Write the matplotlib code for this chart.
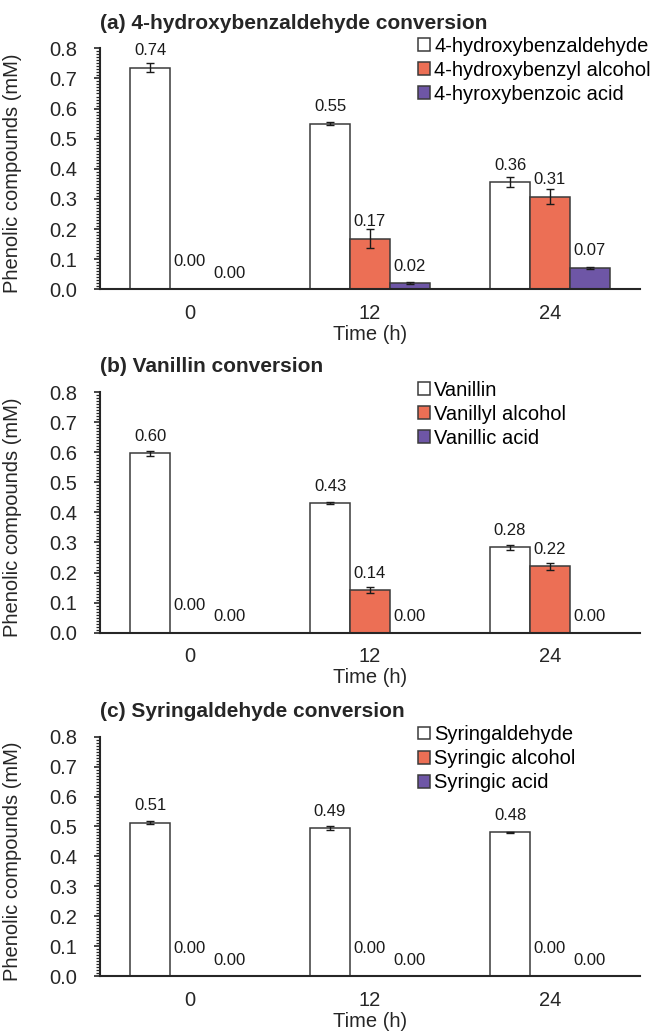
import numpy as np
import matplotlib
matplotlib.use('Agg')
import matplotlib.pyplot as plt
from matplotlib.ticker import MultipleLocator, FormatStrFormatter

plt.rcParams['font.family'] = ['Liberation Sans', 'DejaVu Sans']

# time points (h)
times = ['0', '12', '24']

# (a) 4-hydroxybenzaldehyde
a_names = ['4-hydroxybenzaldehyde', '4-hydroxybenzyl alcohol', '4-hyroxybenzoic acid']
a_ald = [0.736, 0.549, 0.356]
a_ald_err = [0.015, 0.005, 0.017]
a_alc = [0.0, 0.168, 0.308]
a_alc_err = [0.0, 0.031, 0.024]
a_acid = [0.0, 0.021, 0.071]
a_acid_err = [0.0, 0.002, 0.003]

# (b) vanillin
b_names = ['Vanillin', 'Vanillyl alcohol', 'Vanillic acid']
b_ald = [0.596, 0.430, 0.284]
b_ald_err = [0.008, 0.003, 0.008]
b_alc = [0.0, 0.142, 0.221]
b_alc_err = [0.0, 0.011, 0.012]
b_acid = [0.0, 0.0, 0.0]
b_acid_err = [0.0, 0.0, 0.0]

# (c) syringaldehyde
c_names = ['Syringaldehyde', 'Syringic alcohol', 'Syringic acid']
c_ald = [0.512, 0.494, 0.480]
c_ald_err = [0.005, 0.006, 0.003]
c_alc = [0.0, 0.0, 0.0]
c_alc_err = [0.0, 0.0, 0.0]
c_acid = [0.0, 0.0, 0.0]
c_acid_err = [0.0, 0.0, 0.0]

titles = ['(a) 4-hydroxybenzaldehyde conversion',
          '(b) Vanillin conversion',
          '(c) Syringaldehyde conversion']

colors = ['white', '#EC6F55', '#6E56A6']
edge = '#3a3a3a'

W, H = 660, 1031
fig = plt.figure(figsize=(W / 100, H / 100), dpi=100)

# axes pixel boxes: (top, bottom)
boxes = [(48.3, 289.3), (392.0, 632.7), (736.7, 976.0)]
ax_left, ax_right = 100, 640

panels = [
    (a_names, [a_ald, a_alc, a_acid], [a_ald_err, a_alc_err, a_acid_err]),
    (b_names, [b_ald, b_alc, b_acid], [b_ald_err, b_alc_err, b_acid_err]),
    (c_names, [c_ald, c_alc, c_acid], [c_ald_err, c_alc_err, c_acid_err]),
]

width = 0.222
x = np.arange(len(times))

for i, (names, series, errs) in enumerate(panels):
    top, bot = boxes[i]
    ax = fig.add_axes([ax_left / W, 1 - bot / H, (ax_right - ax_left) / W, (bot - top) / H])

    handles = []
    for j in range(3):
        xs = x + (j - 1) * width
        vals = np.array(series[j])
        ee = np.array(errs[j])
        b = ax.bar(xs, vals, width, color=colors[j], edgecolor=edge, linewidth=1.1,
                   label=names[j], zorder=2)
        handles.append(b)
        m = ee > 0
        if m.any():
            ax.errorbar(xs[m], vals[m], yerr=ee[m], fmt='none', ecolor='#1a1a1a',
                        elinewidth=1.0, capsize=2.8, capthick=1.0, zorder=3)
        for k in range(len(xs)):
            v = vals[k]
            if v == 0 and j == 1:
                off = 19.8
            elif v == 0:
                off = 11.5
            else:
                off = 12.2
            ax.annotate('%.2f' % v, (xs[k], v), xytext=(0, off), textcoords='offset points',
                        ha='center', va='center', fontsize=12, color='#1a1a1a')

    ax.set_xlim(-0.5, 2.5)
    ax.set_ylim(0, 0.8)
    ax.set_xticks(x)
    ax.set_xticklabels(times)
    ax.yaxis.set_major_locator(MultipleLocator(0.1))
    ax.yaxis.set_minor_locator(MultipleLocator(0.01))
    ax.yaxis.set_major_formatter(FormatStrFormatter('%.1f'))
    for s in ['top', 'right']:
        ax.spines[s].set_visible(False)
    for s in ['left', 'bottom']:
        ax.spines[s].set_linewidth(1.5)
        ax.spines[s].set_color('#262626')
    ax.tick_params(axis='y', which='major', direction='out', length=4.3, width=1.2,
                   pad=12, labelsize=14.5, colors='#262626')
    ax.tick_params(axis='y', which='minor', direction='out', length=2.8, width=0.9, colors='#262626')
    ax.tick_params(axis='x', length=0, pad=10.5, labelsize=14.5, colors='#262626')
    ax.set_xlabel('Time (h)', fontsize=14.5, labelpad=1.5, color='#262626')
    ax.set_ylabel('Phenolic compounds (mM)', fontsize=14.5, color='#262626')
    ax.yaxis.set_label_coords(-0.145, 0.48)

    fig.text(ax_left / W, 1 - (top - 25) / H, titles[i], fontsize=15, fontweight='bold',
             ha='left', va='center', color='#262626')

    ax.legend(handles=handles, loc='upper left', bbox_to_anchor=(418 / W, 1 - (top - 11.5) / H),
              bbox_transform=fig.transFigure, frameon=False, fontsize=14.5,
              handlelength=0.6, handleheight=0.6, handletextpad=0.2, labelspacing=0.25,
              borderpad=0, borderaxespad=0)

fig.savefig('out.png', dpi=100)
